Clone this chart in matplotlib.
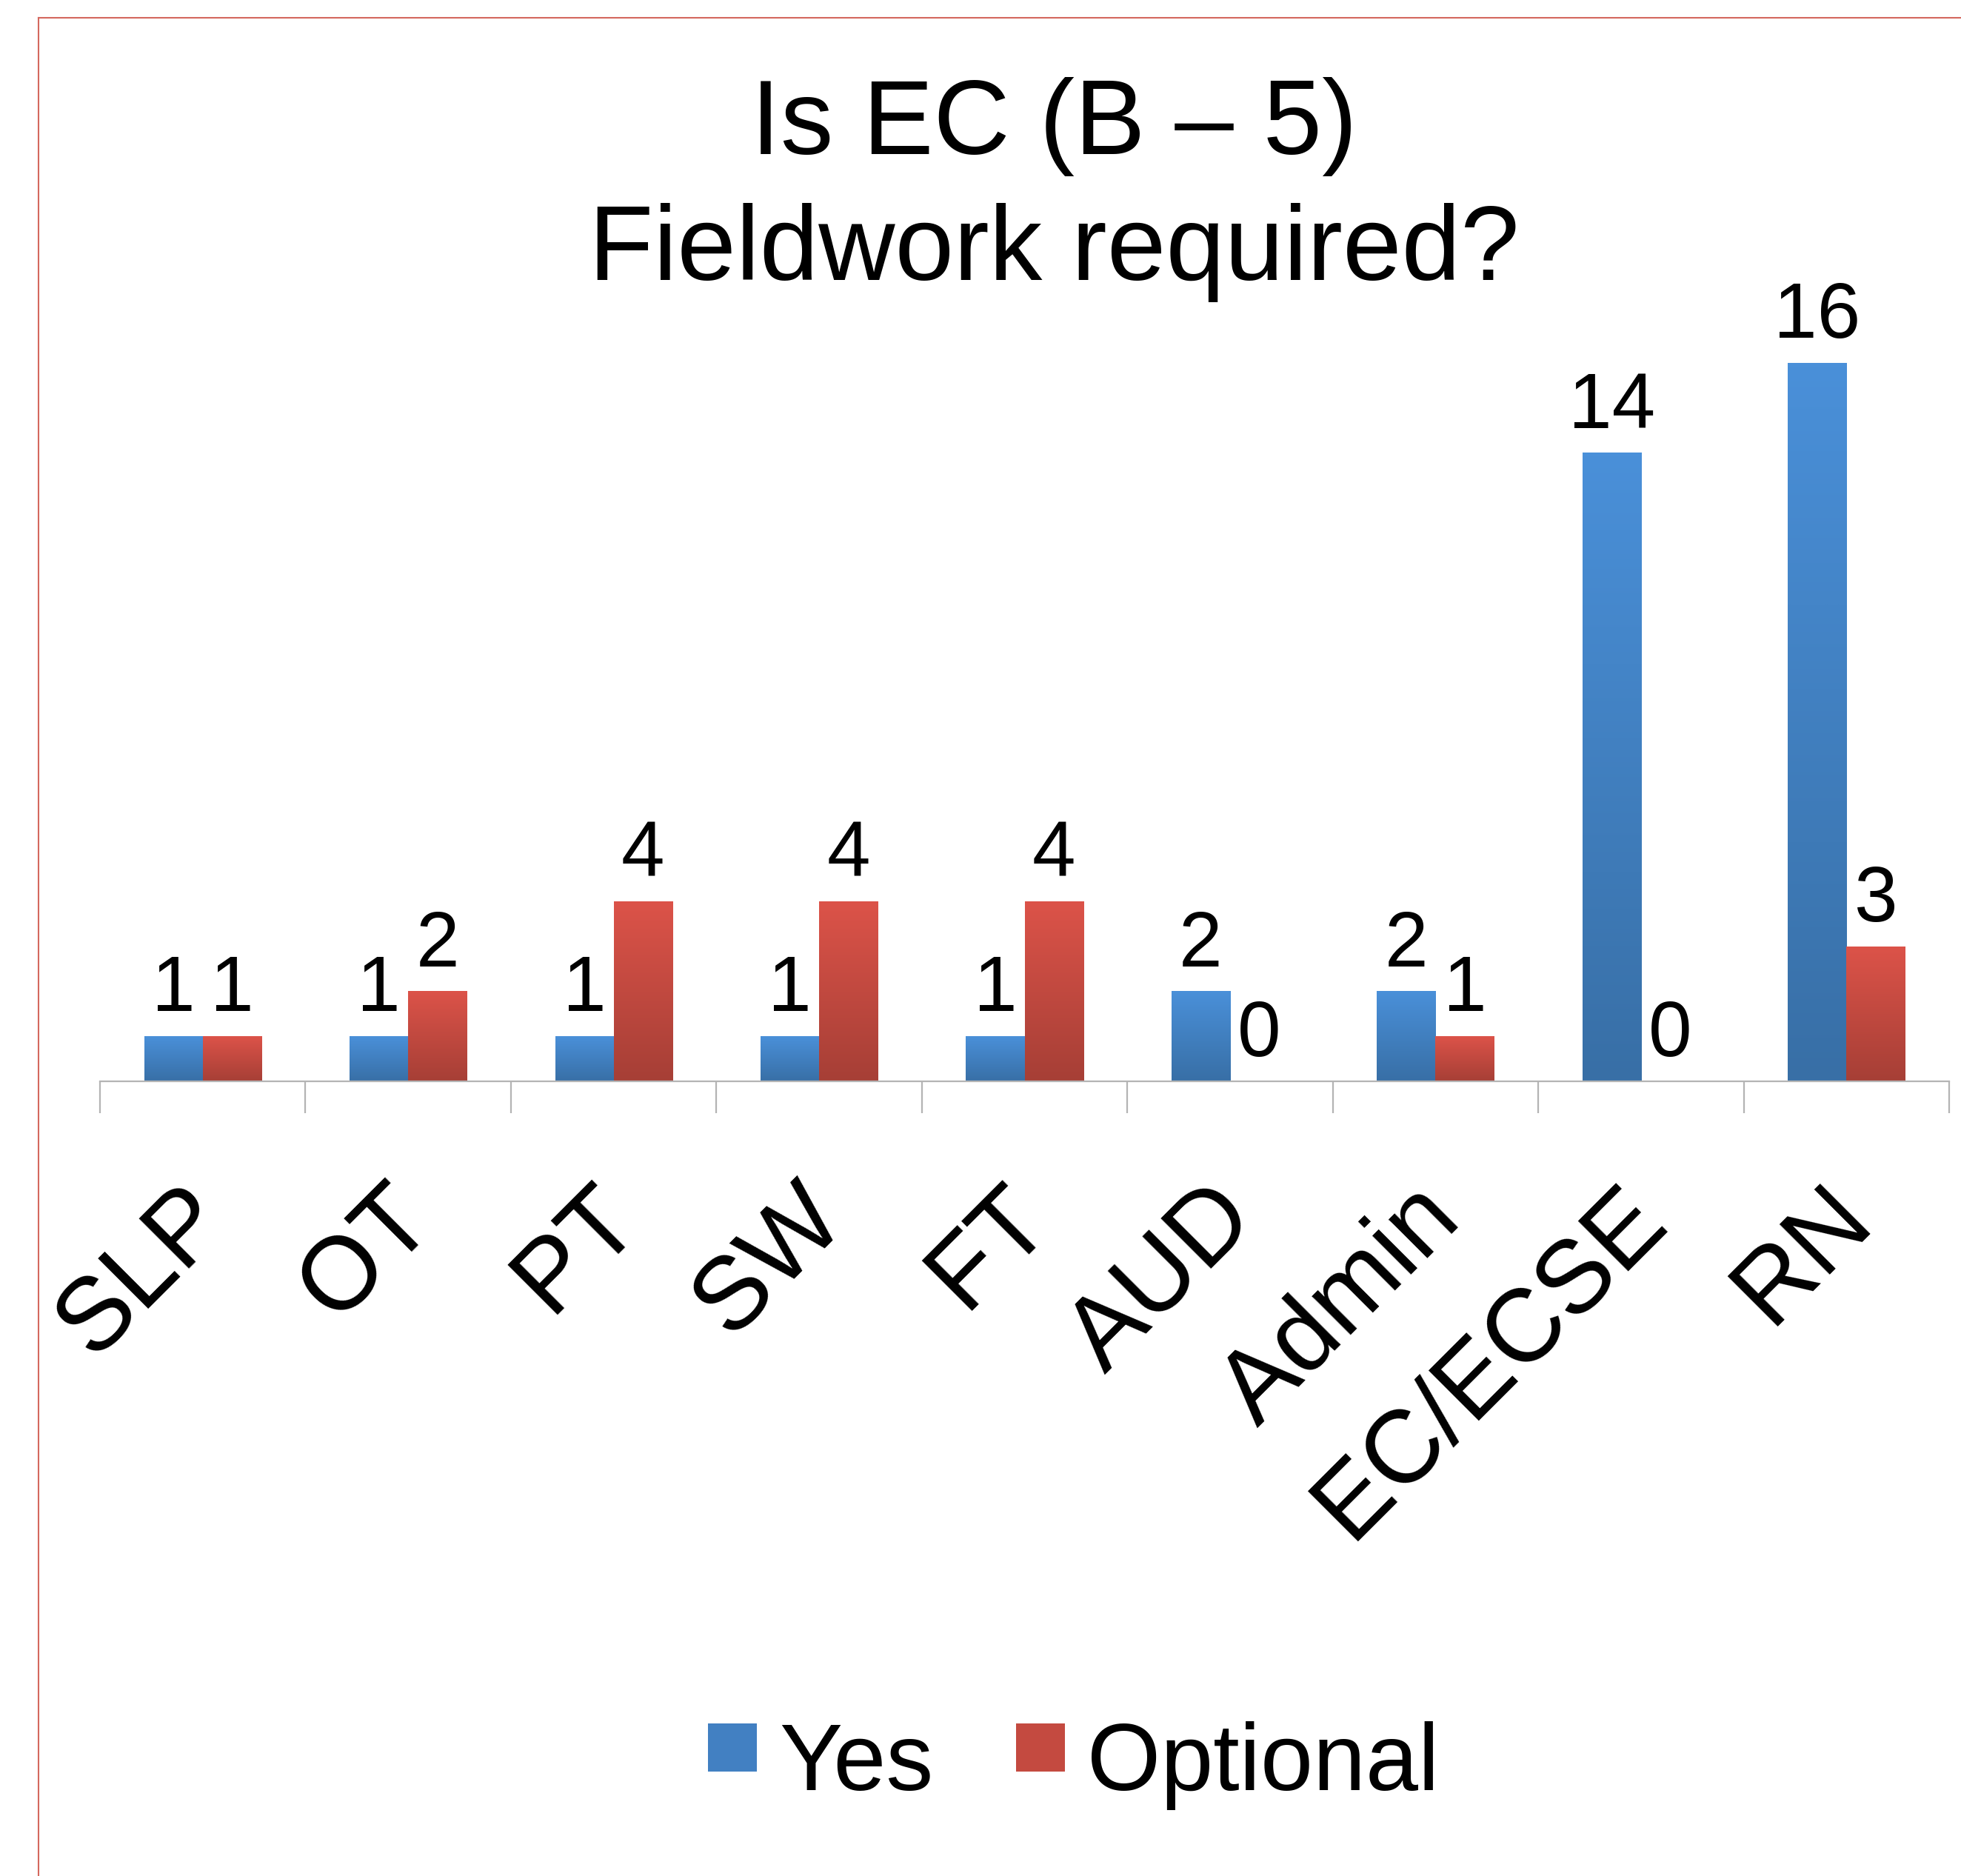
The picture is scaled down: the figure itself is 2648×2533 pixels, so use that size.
import numpy as np
import matplotlib
matplotlib.use("Agg")
import matplotlib.pyplot as plt
from matplotlib.colors import LinearSegmentedColormap
from matplotlib.patches import Rectangle
from matplotlib.lines import Line2D
from matplotlib.legend_handler import HandlerPatch

plt.rcParams['font.family'] = ['Liberation Sans', 'DejaVu Sans']

categories = ["SLP", "OT", "PT", "SW", "FT", "AUD", "Admin", "EC/ECSE", "RN"]
yes_vals = [1, 1, 1, 1, 1, 2, 2, 14, 16]
optional_vals = [1, 2, 4, 4, 4, 0, 1, 0, 3]
series_names = ["Yes", "Optional"]

blue_top, blue_bot = "#4A90D9", "#386FA6"
red_top, red_bot = "#DC5349", "#A63F36"

W, H = 2648, 2533
fig = plt.figure(figsize=(W / 100, H / 100), dpi=100)
ax = fig.add_axes([135 / W, (H - 1460) / H, (2632 - 135) / W, 17.5 * 60.6 / H])

x = np.arange(len(categories))
bw = 0.285


def gradient_bars(xpos, vals, top, bot, label):
    bars = ax.bar(xpos, vals, bw, color=top, label=label, zorder=2)
    cmap = LinearSegmentedColormap.from_list(label, [bot, top])
    grad = np.linspace(0, 1, 256).reshape(-1, 1)
    for b in bars:
        h = b.get_height()
        if h <= 0:
            continue
        b.set_facecolor("none")
        ax.imshow(grad, extent=(b.get_x(), b.get_x() + b.get_width(), 0, h),
                  origin="lower", aspect="auto", cmap=cmap, zorder=2,
                  interpolation="bilinear")
    for xi, v in zip(xpos, vals):
        ax.annotate(str(v), (xi, v), xytext=(0, 24.5), textcoords="offset points",
                    ha="center", va="baseline", fontsize=76)
    return bars


b1 = gradient_bars(x - bw / 2, yes_vals, blue_top, blue_bot, series_names[0])
b2 = gradient_bars(x + bw / 2, optional_vals, red_top, red_bot, series_names[1])

ax.set_xlim(-0.5, len(categories) - 0.5)
ax.set_ylim(0, 17.5)

for s in ["left", "right", "top"]:
    ax.spines[s].set_visible(False)
ax.spines["bottom"].set_color("#B4B4B4")
ax.spines["bottom"].set_linewidth(1.6)
ax.set_yticks([])
ax.set_xticks(np.arange(len(categories) + 1) - 0.5)
ax.set_xticklabels([])
ax.tick_params(axis="x", direction="out", length=31, width=1.6, color="#B4B4B4")

# category labels, rotated 45 degrees
for xi, cat in zip(x, categories):
    ax.annotate(cat, (xi, 0), xycoords=("data", "axes fraction"),
                xytext=(-24, -85), textcoords="offset points",
                ha="right", va="top", rotation=45, rotation_mode="anchor",
                fontsize=100)

# title
fig.text(0.5374, 1 - 208 / H, "Is EC (B \u2013 5)", ha="center", va="baseline", fontsize=103)
fig.text(0.5374, 1 - 378 / H, "Fieldwork required?", ha="center", va="baseline", fontsize=103)


class SquareHandler(HandlerPatch):
    def create_artists(self, legend, orig_handle, xdescent, ydescent,
                       width, height, fontsize, trans):
        s = 0.51 * fontsize
        p = Rectangle((0, 0.195 * fontsize), s, s, facecolor=orig_handle.get_edgecolor(),
                      edgecolor="none", transform=trans)
        return [p]


h1 = Rectangle((0, 0), 1, 1, edgecolor="#4280C2")
h2 = Rectangle((0, 0), 1, 1, edgecolor="#C44A40")
fig.legend([h1, h2], series_names, loc="center", bbox_to_anchor=(0.5476, 1 - 2384 / H),
           ncol=2, frameon=False, fontsize=92, handlelength=0.51, handleheight=0.7,
           handletextpad=0.24, columnspacing=0.875, borderpad=0,
           handler_map={Rectangle: SquareHandler()})

# slide border (top and left edges)
border = "#D4685E"
fig.add_artist(Line2D([52 / W, 1], [1 - 24 / H, 1 - 24 / H], color=border, lw=1.5))
fig.add_artist(Line2D([52 / W, 52 / W], [0, 1 - 24 / H], color=border, lw=1.5))

fig.savefig("out.png", dpi=100)
